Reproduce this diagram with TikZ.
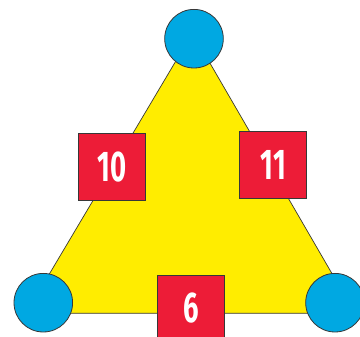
\documentclass[tikz,border=0pt]{standalone}
\usepackage{fontspec}
\newfontfamily\numfont[FakeStretch=0.64]{Fira Sans}
\usetikzlibrary{shapes}
\definecolor{triyellow}{RGB}{255,237,0}
\definecolor{dotblue}{RGB}{0,168,226}
\definecolor{boxred}{RGB}{237,28,55}
\definecolor{edgegray}{RGB}{55,55,55}

\begin{document}
\begin{tikzpicture}[x=1pt,y=-1pt,
    vertex/.style={circle,fill=dotblue,draw=edgegray,line width=0.8pt,minimum size=58.6pt,inner sep=0pt},
    numbox/.style={rectangle,fill=boxred,draw=edgegray,line width=0.8pt,minimum size=67pt,inner sep=0pt,
        text=white,font=\numfont\bfseries\fontsize{43}{43}\selectfont}]
    \useasboundingbox (0,0) rectangle (360,337);
    % Draw the triangle
    \coordinate (apex) at (192.5,33);
    \coordinate (left) at (26,313.3);
    \coordinate (right) at (355,313.3);
    \filldraw[fill=triyellow, draw=edgegray, line width=0.7pt] (apex) -- (left) -- (right) -- cycle;
    % Circles at the corners
    \node[vertex] (top) at (194,38.7) {};
    \node[vertex] (botleft) at (43.3,302.7) {};
    \node[vertex] (botright) at (335,302.7) {};
    % Numbers on the sides
    \node[numbox] (sideleft) at (111.8,167.3) {10};
    \node[numbox] (sideright) at (273.3,165.2) {11};
    \node[numbox] (sidebottom) at (191.2,308.5) {6};
\end{tikzpicture}
\end{document}
